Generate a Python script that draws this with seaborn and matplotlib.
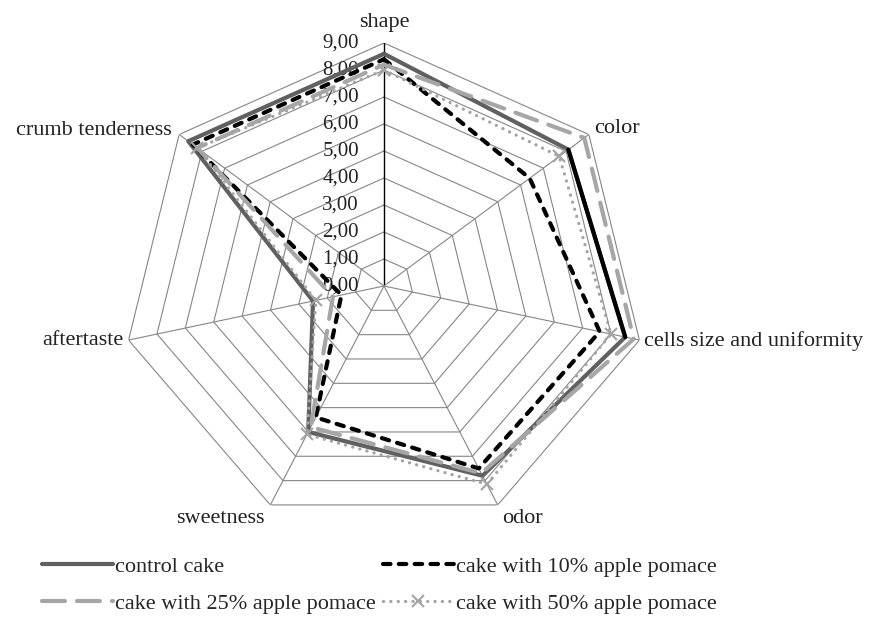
import numpy as np
import pandas as pd
import matplotlib
matplotlib.use('Agg')
import matplotlib.pyplot as plt
import seaborn as sns

# Sensory scores
categories = ['shape', 'color', 'cells size and uniformity', 'odor',
              'sweetness', 'aftertaste', 'crumb tenderness']
control = [8.6, 8.1, 8.5, 7.8, 6.0, 2.5, 8.6]
pomace10 = [8.4, 6.4, 7.6, 7.5, 5.4, 1.5, 8.4]
pomace25 = [8.2, 8.8, 8.8, 7.7, 5.8, 1.8, 8.2]
pomace50 = [8.0, 7.7, 8.0, 8.15, 6.1, 2.4, 8.2]
rings = [0, 1, 2, 3, 4, 5, 6, 7, 8, 9]
ring_labels = ['0,00', '1,00', '2,00', '3,00', '4,00', '5,00', '6,00', '7,00', '8,00', '9,00']

sns.set_theme(style='white')
plt.rcParams['font.family'] = ['Liberation Serif', 'DejaVu Serif']
FS = 16

n = len(categories)
theta = np.arange(n) * 2 * np.pi / n
closed = np.append(theta, theta[0])

fig = plt.figure(figsize=(8.73, 6.37), dpi=100)
ax = fig.add_axes([122 / 873, 108 / 637, 524 / 873, 486 / 637], projection='polar')
ax.set_aspect('auto')
ax.set_theta_offset(np.pi / 2)
ax.set_theta_direction(-1)
ax.grid(False)
ax.set_xticks([])
ax.set_yticks([])
ax.spines['polar'].set_visible(False)
ax.patch.set_visible(False)

# heptagon grid and spokes
for v in rings[1:]:
    ax.plot(closed, [v] * (n + 1), color='#868686', lw=0.8, zorder=1)
for i, t in enumerate(theta):
    ax.plot([t, t], [0, rings[-1]], color='black' if i == 0 else '#868686',
            lw=1.0 if i == 0 else 0.8, zorder=1)

for v, lab in zip(rings, ring_labels):
    ax.annotate(lab, xy=(0, v), xytext=(-18, 0), textcoords='offset points',
                ha='right', va='center', fontsize=15, color='#222222')

# category labels
offsets = [(0, 8, 'center', 'bottom'), (4, 4, 'left', 'center'), (3, -1, 'left', 'center'),
           (3, -3, 'left', 'top'), (-4, -3, 'right', 'top'), (-4, 0, 'right', 'center'),
           (-5, 3, 'right', 'center')]
for t, lab, (dx, dy, ha, va) in zip(theta, categories, offsets):
    ax.annotate(lab, xy=(t, rings[-1]), xytext=(dx, dy), textcoords='offset points',
                ha=ha, va=va, fontsize=FS, color='#222222')

def series(vals):
    return pd.DataFrame({'theta': closed, 'score': list(vals) + [vals[0]]})

sns.lineplot(data=series(control), x='theta', y='score', sort=False, estimator=None,
             ax=ax, color='#606060', lw=3, legend=False, label='control cake',
             solid_capstyle='round', zorder=3)
# control segment color -> cells is drawn in black in the original
ax.plot(theta[1:3], control[1:3], color='black', lw=3, solid_capstyle='round', zorder=3)
sns.lineplot(data=series(pomace10), x='theta', y='score', sort=False, estimator=None,
             ax=ax, color='black', lw=3, legend=False, label='cake with 10% apple pomace',
             linestyle=(0, (1.8, 2.0)), dash_capstyle='round', zorder=4)
sns.lineplot(data=series(pomace25), x='theta', y='score', sort=False, estimator=None,
             ax=ax, color='#a6a6a6', lw=3, legend=False, label='cake with 25% apple pomace',
             linestyle=(0, (5.5, 2.9)), dash_capstyle='round', zorder=5)
d50 = series(pomace50)
ax.plot(d50['theta'], d50['score'], color='#a4a4a4', lw=2.4, label='cake with 50% apple pomace',
        linestyle=(0, (0.01, 2.2)), dash_capstyle='round', marker='x',
        markersize=9, markeredgewidth=1.5, zorder=6)
ax.set_ylim(0, rings[-1])
ax.set_xlabel('')
ax.set_ylabel('')

lines = {l.get_label(): l for l in ax.get_lines()}
order = ['control cake', 'cake with 25% apple pomace',
         'cake with 10% apple pomace', 'cake with 50% apple pomace']
fig.legend(handles=[lines[k] for k in order], labels=order, ncol=2, loc='upper left',
           bbox_to_anchor=(42 / 873, 1 - 556 / 637), frameon=False, fontsize=FS,
           handlelength=3.2, handletextpad=0.1, columnspacing=0.3, labelspacing=0.75,
           borderpad=0, borderaxespad=0)

fig.savefig('out.png', dpi=100, facecolor='white')
